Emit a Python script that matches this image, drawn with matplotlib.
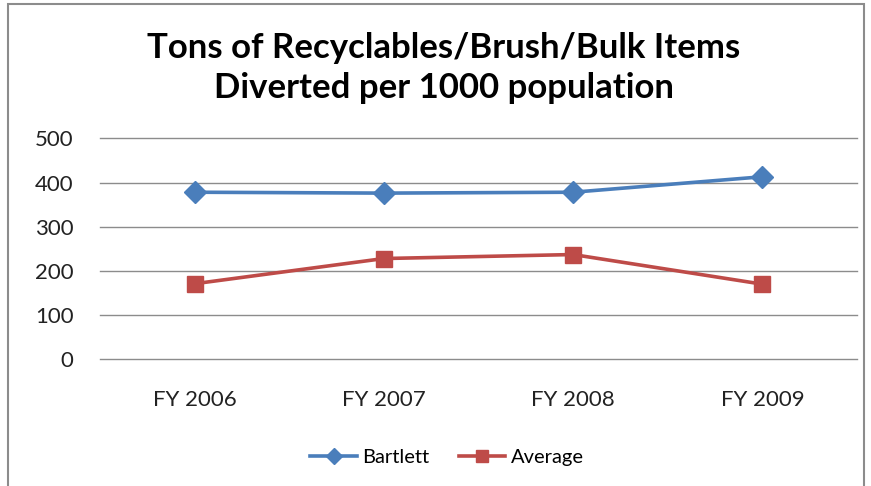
import matplotlib
matplotlib.use("Agg")
import matplotlib.pyplot as plt
from matplotlib.patches import Rectangle

categories = ["FY 2006", "FY 2007", "FY 2008", "FY 2009"]
bartlett = [378, 376, 378, 413]
average = [171, 228, 237, 170]
yticks = [0, 100, 200, 300, 400, 500]
title = "Tons of Recyclables/Brush/Bulk Items\nDiverted per 1000 population"

plt.rcParams['font.family'] = ['Lato', 'DejaVu Sans']

W, H = 871, 486
fig = plt.figure(figsize=(W / 100, H / 100), dpi=100)
fig.patch.set_facecolor("white")

# outer chart frame
fig.patches.append(Rectangle((8 / W, -0.05), (864 - 8) / W, 1.05 - 4 / H,
                             transform=fig.transFigure, fill=False,
                             edgecolor="#8c8c8c", linewidth=1.5))

left, right = 100 / W, 857 / W
top_px, bot_px = 138.3, 359.3
ax = fig.add_axes([left, 1 - bot_px / H, right - left, (bot_px - top_px) / H])

x = list(range(len(categories)))
ax.plot(x, bartlett, color="#4A7EBB", lw=2.6, marker="D", markersize=11,
        label="Bartlett", zorder=3)
ax.plot(x, average, color="#BE4B48", lw=2.6, marker="s", markersize=11.5,
        label="Average", zorder=3)

ax.set_xlim(-0.5, len(categories) - 0.5)
ax.set_ylim(0, 500)
ax.set_yticks(yticks)
ax.set_xticks(x)
ax.set_xticklabels(categories)
for s in ax.spines.values():
    s.set_visible(False)
ax.grid(axis="y", color="#8c8c8c", lw=1.0)
for gl in ax.get_ygridlines():
    gl.set_clip_on(False)
ax.set_axisbelow(True)
ax.tick_params(axis="both", length=0, labelsize=16, colors="#222222")
ax.tick_params(axis="y", pad=19)
ax.tick_params(axis="x", pad=22)

fig.text(444 / W, 1 - 68 / H, title, ha="center", va="center",
         fontsize=25, fontweight="bold", linespacing=1.3, color="black")

fig.legend(loc="center", bbox_to_anchor=(447 / W, 1 - 457 / H), ncol=2,
           frameon=False, fontsize=14.5, handlelength=2.3, columnspacing=1.5,
           handletextpad=0.25, markerscale=0.7)

fig.savefig("out.png", dpi=100)
